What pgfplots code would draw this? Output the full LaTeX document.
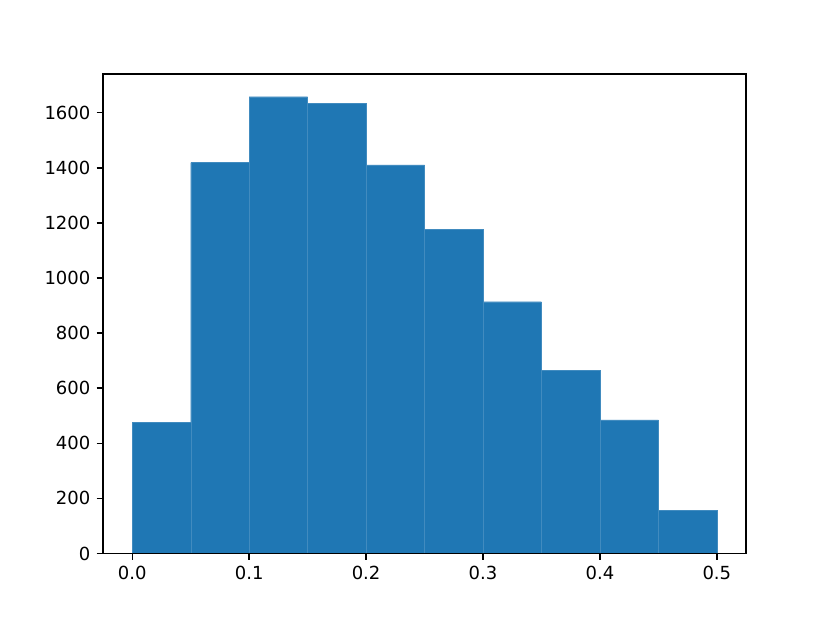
\documentclass[border=0pt]{standalone}
\usepackage{pgfplots}
\pgfplotsset{compat=1.18}
\usepackage{fontspec}
\setmainfont{DejaVu Sans}
\definecolor{mplblue}{HTML}{1F77B4}
\begin{document}
\begin{tikzpicture}
\path[use as bounding box] (-57.2pt,-38.3pt) rectangle (403.6pt,307.3pt);
\begin{axis}[
  scale only axis,
  width=357pt, height=266.3pt,
  xmin=-0.025, xmax=0.525,
  ymin=0, ymax=1741,
  xtick={0,0.1,0.2,0.3,0.4,0.5},
  ytick={0,200,400,600,800,1000,1200,1400,1600},
  xticklabel style={/pgf/number format/.cd, fixed, fixed zerofill, precision=1},
  yticklabel style={/pgf/number format/.cd, fixed, 1000 sep={}},
  /pgf/number format/assume math mode=true,
  tick align=outside,
  tick pos=left,
  major tick length=3.5pt,
  tick style={black, line width=0.8pt},
  axis line style={line width=0.8pt},
  ticklabel style={font=\fontsize{10}{12}\selectfont},
  scaled ticks=false,
  axis on top,
]
\addplot[ybar interval, fill=mplblue, draw=mplblue!85!white, line width=0.2pt] coordinates {
(0.00,475) (0.05,1419) (0.10,1658) (0.15,1635) (0.20,1411) (0.25,1177)
(0.30,914) (0.35,665) (0.40,485) (0.45,156) (0.50,156)
};
\end{axis}
\end{tikzpicture}
\end{document}
